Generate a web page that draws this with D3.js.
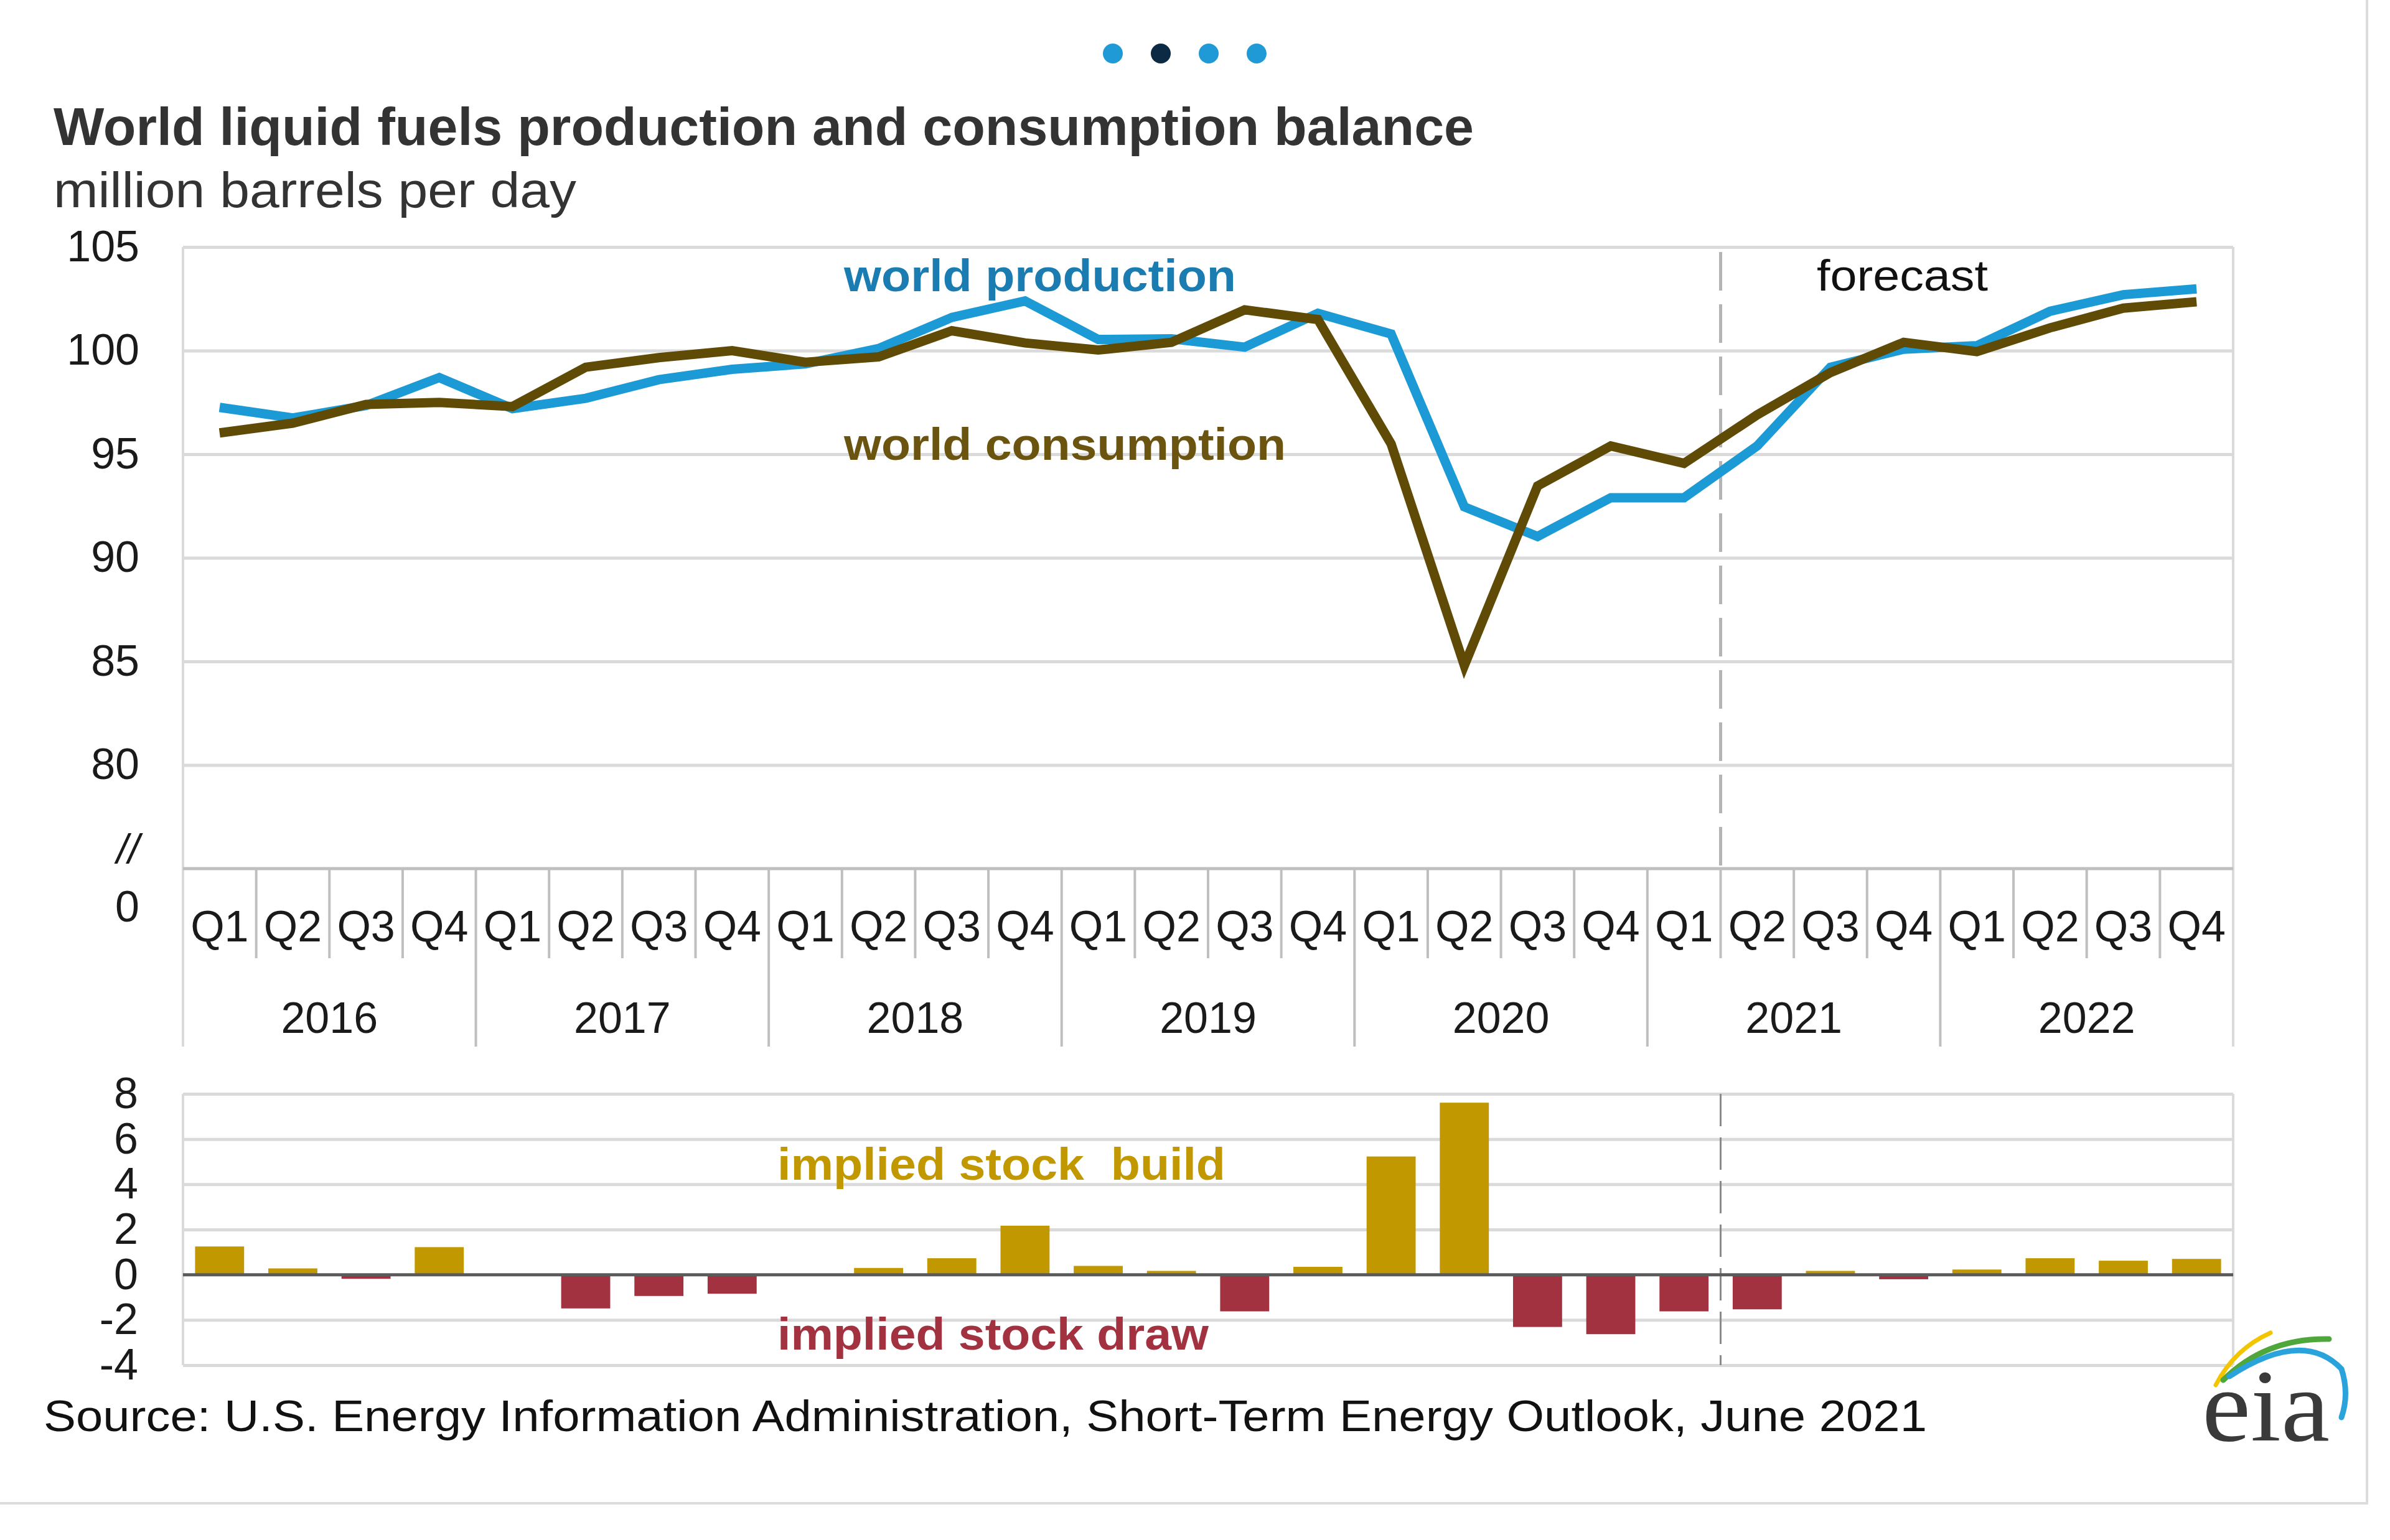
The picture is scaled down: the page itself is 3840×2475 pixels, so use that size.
<!DOCTYPE html>
<html>
<head>
<meta charset="utf-8">
<script src="https://cdn.jsdelivr.net/npm/d3@7"></script>
<style>
  html, body { margin: 0; padding: 0; background: #ffffff; }
  svg { display: block; }
</style>
</head>
<body>
<svg id="chart" width="3840" height="2475"></svg>
<script>
// ---------------- DATA ----------------
const quarterLabels = ["Q1","Q2","Q3","Q4","Q1","Q2","Q3","Q4","Q1","Q2","Q3","Q4","Q1","Q2","Q3","Q4",
                       "Q1","Q2","Q3","Q4","Q1","Q2","Q3","Q4","Q1","Q2","Q3","Q4"];
const yearLabels = ["2016","2017","2018","2019","2020","2021","2022"];
const production = [97.26, 96.75, 97.35, 98.7, 97.2, 97.7, 98.6, 99.1, 99.36, 100.1, 101.6, 102.4,
                    100.54, 100.57, 100.17, 101.8, 100.8, 92.46, 91.03, 92.9, 92.9, 95.4, 99.2, 100.07,
                    100.24, 101.9, 102.7, 102.98];
const consumption = [96.03, 96.5, 97.4, 97.5, 97.3, 99.2, 99.66, 100.0, 99.44, 99.7, 100.96, 100.37,
                     100.03, 100.4, 101.97, 101.5, 95.5, 84.8, 93.47, 95.4, 94.56, 96.9, 98.94, 100.4,
                     99.95, 101.1, 102.05, 102.36];
const stockChange = [1.25, 0.28, -0.18, 1.22, -0.05, -1.49, -0.94, -0.84, -0.05, 0.3, 0.73, 2.17,
                     0.39, 0.17, -1.62, 0.35, 5.23, 7.61, -2.31, -2.63, -1.62, -1.53, 0.17, -0.2,
                     0.23, 0.73, 0.62, 0.7];
const upperTicks = [80, 85, 90, 95, 100, 105];
const lowerTicks = [-4, -2, 0, 2, 4, 6, 8];
const forecastStartIndex = 21;

// ---------------- STYLE ----------------
const FONT = "'Liberation Sans', Arial, Helvetica, sans-serif";
const C = {
  prod: "#1b9ad6", prodLabel: "#1a7cb0",
  cons: "#5f4b06", consLabel: "#6b5410",
  build: "#c29800", draw: "#a33241",
  grid: "#dadada", axis: "#bfbfbf", zero: "#5a5a5a", text: "#1a1a1a"
};

const svg = d3.select("#chart");
const left = 294, right = 3588;

const x = d3.scaleBand().domain(d3.range(quarterLabels.length)).range([left, right]).padding(0);
const cx = i => x(i) + x.bandwidth() / 2;
const yTop = d3.scaleLinear().domain([75, 105]).range([1396, 397]);
const yBot = d3.scaleLinear().domain([-4, 8]).range([2194, 1758]);
const plainFormat = d => String(d); // ASCII hyphen-minus like the original

// outer frame (right and bottom edges)
svg.append("line").attr("x1", 3803).attr("x2", 3803).attr("y1", 0).attr("y2", 2416)
  .attr("stroke", "#dcdcdc").attr("stroke-width", 4);
svg.append("line").attr("x1", 0).attr("x2", 3805).attr("y1", 2416).attr("y2", 2416)
  .attr("stroke", "#dcdcdc").attr("stroke-width", 4);

// carousel dots
const dotColors = ["#1f9ad6", "#0c2a44", "#1f9ad6", "#1f9ad6"];
svg.append("g").selectAll("circle").data(dotColors).join("circle")
  .attr("cx", (d, i) => 1788 + i * 77).attr("cy", 86).attr("r", 16).attr("fill", d => d);

// title & subtitle
svg.append("text").attr("x", 86).attr("y", 233)
  .attr("font-family", FONT).attr("font-weight", "bold").attr("font-size", 86).attr("fill", "#333333")
  .attr("textLength", 2282).attr("lengthAdjust", "spacingAndGlyphs")
  .text("World liquid fuels production and consumption balance");
svg.append("text").attr("x", 86).attr("y", 333)
  .attr("font-family", FONT).attr("font-size", 80).attr("fill", "#333333")
  .attr("textLength", 840).attr("lengthAdjust", "spacingAndGlyphs")
  .text("million barrels per day");

// ---------------- UPPER CHART ----------------
const gUp = svg.append("g");
const upAxis = gUp.append("g").attr("transform", `translate(${left},0)`)
  .call(d3.axisLeft(yTop).tickValues(upperTicks).tickFormat(plainFormat)
    .tickSize(-(right - left)).tickPadding(70));
upAxis.select(".domain").remove();
upAxis.selectAll(".tick line").attr("stroke", C.grid).attr("stroke-width", 5);
upAxis.selectAll(".tick text").attr("font-family", FONT).attr("font-size", 70).attr("fill", C.text);

// plot borders
[left, right].forEach(xx => {
  gUp.append("line").attr("x1", xx).attr("x2", xx).attr("y1", yTop(105)).attr("y2", 1682)
    .attr("stroke", C.grid).attr("stroke-width", 4);
});

// category axis line
gUp.append("line").attr("x1", left).attr("x2", right).attr("y1", yTop(75)).attr("y2", yTop(75))
  .attr("stroke", C.axis).attr("stroke-width", 5);

// separators
d3.range(1, quarterLabels.length).forEach(i => {
  const isYear = i % 4 === 0;
  gUp.append("line").attr("x1", x(i)).attr("x2", x(i))
    .attr("y1", yTop(75)).attr("y2", isYear ? 1682 : 1540)
    .attr("stroke", C.axis).attr("stroke-width", 4);
});

// quarter labels
gUp.append("g").selectAll("text").data(quarterLabels).join("text")
  .attr("x", (d, i) => cx(i)).attr("y", 1488).attr("dy", "0.36em")
  .attr("text-anchor", "middle").attr("font-family", FONT).attr("font-size", 70).attr("fill", C.text)
  .text(d => d);
// year labels
gUp.append("g").selectAll("text").data(yearLabels).join("text")
  .attr("x", (d, i) => (x(i * 4) + x(i * 4 + 3) + x.bandwidth()) / 2).attr("y", 1635).attr("dy", "0.36em")
  .attr("text-anchor", "middle").attr("font-family", FONT).attr("font-size", 70).attr("fill", C.text)
  .text(d => d);

// axis break labels
gUp.append("text").attr("x", 224).attr("y", 1456).attr("dy", "0.36em").attr("text-anchor", "end")
  .attr("font-family", FONT).attr("font-size", 70).attr("fill", C.text).text("0");
gUp.append("text").attr("x", 224).attr("y", 1363).attr("dy", "0.36em").attr("text-anchor", "end")
  .attr("font-family", FONT).attr("font-style", "italic").attr("font-size", 66).attr("fill", C.text).text("//");

// forecast divider
gUp.append("line").attr("x1", x(forecastStartIndex)).attr("x2", x(forecastStartIndex))
  .attr("y1", yTop(105) + 8).attr("y2", yTop(75))
  .attr("stroke", "#b4b4b4").attr("stroke-width", 5).attr("stroke-dasharray", "62,22");

// lines
const line = d3.line().x((d, i) => cx(i)).y(d => yTop(d));
gUp.append("path").datum(production).attr("d", line).attr("fill", "none")
  .attr("stroke", C.prod).attr("stroke-width", 15).attr("stroke-linejoin", "miter");
gUp.append("path").datum(consumption).attr("d", line).attr("fill", "none")
  .attr("stroke", C.cons).attr("stroke-width", 15).attr("stroke-linejoin", "miter");

// annotations
gUp.append("text").attr("x", 1356).attr("y", 468).attr("font-family", FONT).attr("font-weight", "bold")
  .attr("font-size", 72).attr("fill", C.prodLabel)
  .attr("textLength", 630).attr("lengthAdjust", "spacingAndGlyphs").text("world production");
gUp.append("text").attr("x", 1356).attr("y", 739).attr("font-family", FONT).attr("font-weight", "bold")
  .attr("font-size", 72).attr("fill", C.consLabel)
  .attr("textLength", 710).attr("lengthAdjust", "spacingAndGlyphs").text("world consumption");
gUp.append("text").attr("x", 2919).attr("y", 467).attr("font-family", FONT)
  .attr("font-size", 70).attr("fill", "#111111")
  .attr("textLength", 275).attr("lengthAdjust", "spacingAndGlyphs").text("forecast");

// ---------------- LOWER CHART ----------------
const gLo = svg.append("g");
const loAxis = gLo.append("g").attr("transform", `translate(${left},0)`)
  .call(d3.axisLeft(yBot).tickValues(lowerTicks).tickFormat(plainFormat)
    .tickSize(-(right - left)).tickPadding(72));
loAxis.select(".domain").remove();
loAxis.selectAll(".tick line").attr("stroke", d => d === 0 ? "none" : C.grid).attr("stroke-width", 5);
loAxis.selectAll(".tick text").attr("font-family", FONT).attr("font-size", 70).attr("fill", C.text);

[left, right].forEach(xx => {
  gLo.append("line").attr("x1", xx).attr("x2", xx).attr("y1", yBot(8)).attr("y2", yBot(-4))
    .attr("stroke", C.grid).attr("stroke-width", 4);
});

gLo.append("line").attr("x1", x(forecastStartIndex)).attr("x2", x(forecastStartIndex))
  .attr("y1", yBot(8)).attr("y2", yBot(-4))
  .attr("stroke", "#8a8a8a").attr("stroke-width", 3).attr("stroke-dasharray", "52,18");

const bw = x.bandwidth() * 0.67;
gLo.append("g").selectAll("rect").data(stockChange).join("rect")
  .attr("x", (d, i) => cx(i) - bw / 2).attr("width", bw)
  .attr("y", d => yBot(Math.max(0, d)))
  .attr("height", d => Math.abs(yBot(d) - yBot(0)))
  .attr("fill", d => d >= 0 ? C.build : C.draw);

gLo.append("line").attr("x1", left).attr("x2", right).attr("y1", yBot(0)).attr("y2", yBot(0))
  .attr("stroke", C.zero).attr("stroke-width", 5);

gLo.append("text").attr("x", 1249).attr("y", 1896).attr("font-family", FONT).attr("font-weight", "bold")
  .attr("font-size", 72).attr("fill", C.build).attr("xml:space", "preserve")
  .attr("textLength", 720).attr("lengthAdjust", "spacingAndGlyphs").text("implied stock  build");
gLo.append("text").attr("x", 1249).attr("y", 2169).attr("font-family", FONT).attr("font-weight", "bold")
  .attr("font-size", 72).attr("fill", C.draw)
  .attr("textLength", 693).attr("lengthAdjust", "spacingAndGlyphs").text("implied stock draw");

// source
svg.append("text").attr("x", 70).attr("y", 2300).attr("font-family", FONT)
  .attr("font-size", 70).attr("fill", "#111111")
  .attr("textLength", 3026).attr("lengthAdjust", "spacingAndGlyphs")
  .text("Source: U.S. Energy Information Administration, Short-Term Energy Outlook, June 2021");

// eia logo
const logo = svg.append("g");
logo.append("path").attr("d", "M3560,2226 Q3590,2168 3648,2142").attr("fill", "none")
  .attr("stroke", "#f2c500").attr("stroke-width", 7).attr("stroke-linecap", "round");
logo.append("path").attr("d", "M3572,2218 Q3640,2150 3742,2152").attr("fill", "none")
  .attr("stroke", "#4fa63a").attr("stroke-width", 9).attr("stroke-linecap", "round");
logo.append("path").attr("d", "M3582,2212 Q3700,2135 3762,2200 Q3775,2240 3762,2278").attr("fill", "none")
  .attr("stroke", "#2aa2dc").attr("stroke-width", 9).attr("stroke-linecap", "round");
logo.append("text").attr("x", 3538).attr("y", 2315)
  .attr("font-family", "'Liberation Serif', 'DejaVu Serif', serif").attr("font-size", 165).attr("fill", "#3a3a3a")
  .attr("textLength", 205).attr("lengthAdjust", "spacingAndGlyphs").text("eia");
</script>
</body>
</html>
